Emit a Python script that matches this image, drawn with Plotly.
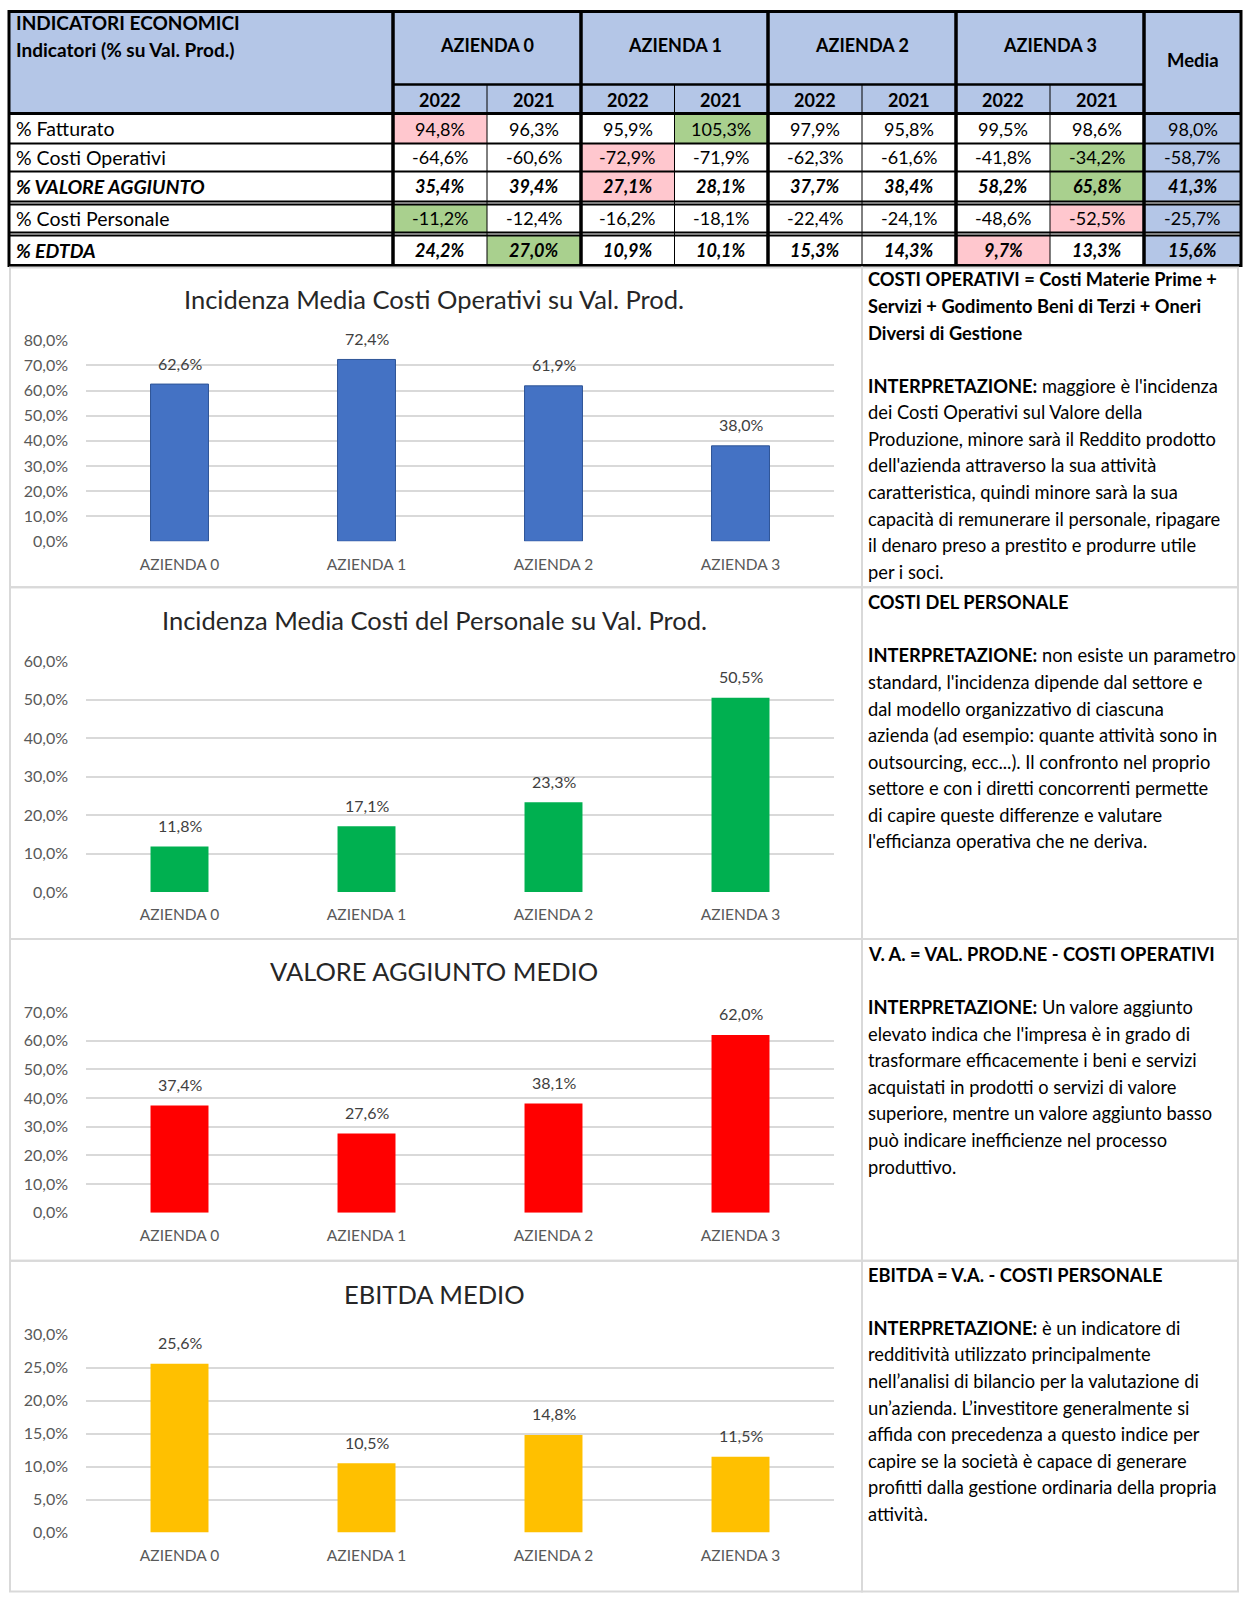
import plotly.graph_objects as go

W, H = 1256, 1600
FONT = "Lato"

# ---------------- DATA ----------------
companies = ["AZIENDA 0", "AZIENDA 1", "AZIENDA 2", "AZIENDA 3"]
years = ["2022", "2021"]
row_labels = ["% Fatturato", "% Costi Operativi", "% VALORE AGGIUNTO",
              "% Costi Personale", "% EDTDA"]
# values per row: A0 2022, A0 2021, A1 2022, A1 2021, A2 2022, A2 2021, A3 2022, A3 2021, Media
fatturato = [94.8, 96.3, 95.9, 105.3, 97.9, 95.8, 99.5, 98.6, 98.0]
costi_operativi = [-64.6, -60.6, -72.9, -71.9, -62.3, -61.6, -41.8, -34.2, -58.7]
valore_aggiunto = [35.4, 39.4, 27.1, 28.1, 37.7, 38.4, 58.2, 65.8, 41.3]
costi_personale = [-11.2, -12.4, -16.2, -18.1, -22.4, -24.1, -48.6, -52.5, -25.7]
edtda = [24.2, 27.0, 10.9, 10.1, 15.3, 14.3, 9.7, 13.3, 15.6]
table_rows = [fatturato, costi_operativi, valore_aggiunto, costi_personale, edtda]
bold_rows = [2, 4]
pink_cells = {0: [0], 1: [2], 2: [2], 3: [7], 4: [6]}
green_cells = {0: [3], 1: [7], 2: [7], 3: [0], 4: [1]}

chart_titles = ["Incidenza Media Costi Operativi su Val. Prod.",
                "Incidenza Media Costi del Personale su Val. Prod.",
                "VALORE AGGIUNTO MEDIO",
                "EBITDA MEDIO"]
media_costi_operativi = [0.626, 0.724, 0.619, 0.380]
media_costi_personale = [0.118, 0.171, 0.233, 0.505]
media_valore_aggiunto = [0.374, 0.276, 0.381, 0.620]
media_ebitda = [0.256, 0.105, 0.148, 0.115]
chart_values = [media_costi_operativi, media_costi_personale,
                media_valore_aggiunto, media_ebitda]
chart_ymax = [0.8, 0.6, 0.7, 0.3]
chart_dtick = [0.1, 0.1, 0.1, 0.05]
chart_colors = ["#4472C4", "#00B050", "#FF0000", "#FFC000"]

panel_texts = [
    ["<b>COSTI OPERATIVI = Costi Materie Prime +</b>",
     "<b>Servizi + Godimento Beni di Terzi + Oneri</b>",
     "<b>Diversi di Gestione</b>",
     "",
     "<b>INTERPRETAZIONE:</b> maggiore è l'incidenza",
     "dei Costi Operativi sul Valore della",
     "Produzione, minore sarà il Reddito prodotto",
     "dell'azienda attraverso la sua attività",
     "caratteristica, quindi minore sarà la sua",
     "capacità di remunerare il personale, ripagare",
     "il denaro preso a prestito e produrre utile",
     "per i soci."],
    ["<b>COSTI DEL PERSONALE</b>",
     "",
     "<b>INTERPRETAZIONE:</b> non esiste un parametro",
     "standard, l'incidenza dipende dal settore e",
     "dal modello organizzativo di ciascuna",
     "azienda (ad esempio: quante attività sono in",
     "outsourcing, ecc...). Il confronto nel proprio",
     "settore e con i diretti concorrenti permette",
     "di capire queste differenze e valutare",
     "l'efficianza operativa che ne deriva."],
    ["<b>V. A. = VAL. PROD.NE - COSTI OPERATIVI</b>",
     "",
     "<b>INTERPRETAZIONE:</b> Un valore aggiunto",
     "elevato indica che l'impresa è in grado di",
     "trasformare efficacemente i beni e servizi",
     "acquistati in prodotti o servizi di valore",
     "superiore, mentre un valore aggiunto basso",
     "può indicare inefficienze nel processo",
     "produttivo."],
    ["<b>EBITDA = V.A. - COSTI PERSONALE</b>",
     "",
     "<b>INTERPRETAZIONE:</b> è un indicatore di",
     "redditività utilizzato principalmente",
     "nell’analisi di bilancio per la valutazione di",
     "un’azienda. L’investitore generalmente si",
     "affida con precedenza a questo indice per",
     "capire se la società è capace di generare",
     "profitti dalla gestione ordinaria della propria",
     "attività."],
]

# ---------------- LAYOUT GEOMETRY (target picture pixels) ----------------
# empirical vertical mapping of the photographed page: shown = V0 + VS * design
V0, VS = 9.4, 0.9888


def px(x):
    return x / W


def py(y):
    return 1 - ((y - V0) / VS) / H


shapes = []
annotations = []


def rect(x0, y0, x1, y1, fill=None, lc=None, lw=0):
    shapes.append(dict(type="rect", xref="paper", yref="paper",
                       x0=px(x0), x1=px(x1), y0=py(y1), y1=py(y0),
                       fillcolor=fill if fill else "rgba(0,0,0,0)",
                       line=dict(color=lc if lc else "rgba(0,0,0,0)", width=lw),
                       layer="below" if fill else "above"))


def line(x0, y0, x1, y1, color="black", w=1):
    shapes.append(dict(type="line", xref="paper", yref="paper",
                       x0=px(x0), x1=px(x1), y0=py(y0), y1=py(y1),
                       line=dict(color=color, width=w), layer="above"))


def text(x, y, s, size=17, xanchor="center", color="black"):
    annotations.append(dict(x=px(x), y=py(y), xref="paper", yref="paper",
                            text=s, showarrow=False, xanchor=xanchor,
                            yanchor="middle",
                            font=dict(family=FONT, size=size, color=color)))


HEADER = "#B4C6E7"
PINK = "#FFC7CE"
GREEN = "#A9D08E"

label_x = (9, 393)
group_x = [393, 581, 768, 956, 1144]
media_x = (1144, 1241)
col_edges = []
for g in range(4):
    a, b = group_x[g], group_x[g + 1]
    m = (a + b) / 2
    col_edges.append((a, m))
    col_edges.append((m, b))
col_edges.append(media_x)

T_TOP, T_MID, T_HB = 11, 84, 113
row_edges = [(113, 143), (143, 171), (171, 201), (204, 232), (235, 265)]
T_BOT = 265

rect(label_x[0], T_TOP, media_x[1], T_HB, fill=HEADER)
for r, (y0, y1) in enumerate(row_edges):
    rect(label_x[0], y0, media_x[1], y1, fill="white")
    for c, (x0, x1) in enumerate(col_edges):
        fill = None
        if c == 8:
            fill = HEADER
        if c in pink_cells.get(r, []):
            fill = PINK
        if c in green_cells.get(r, []):
            fill = GREEN
        if fill:
            rect(x0, y0, x1, y1, fill=fill)

text(14, 22, "<b>INDICATORI ECONOMICI</b>", size=19, xanchor="left")
text(14, 49, "<b>Indicatori (% su Val. Prod.)</b>", size=19, xanchor="left")
for g in range(4):
    a, b = group_x[g], group_x[g + 1]
    text((a + b) / 2, 44, "<b>" + companies[g] + "</b>", size=18)
    for k in range(2):
        x0, x1 = col_edges[2 * g + k]
        text((x0 + x1) / 2, 99, "<b>" + years[k] + "</b>", size=18)
text((media_x[0] + media_x[1]) / 2, 59, "<b>Media</b>", size=18.5)


def fmt(v):
    return ("%.1f%%" % v).replace(".", ",")


for r, (y0, y1) in enumerate(row_edges):
    yc = (y0 + y1) / 2
    lab = row_labels[r]
    if r in bold_rows:
        lab = "<b><i>" + lab + "</i></b>"
    text(14, yc, lab, size=19.5, xanchor="left")
    for c, (x0, x1) in enumerate(col_edges):
        s = fmt(table_rows[r][c])
        if r in bold_rows:
            s = "<b><i>" + s + "</i></b>"
        text((x0 + x1) / 2, yc, s, size=18)

for g in range(4):
    line(group_x[g], T_MID, group_x[g + 1], T_MID, w=2.5)
    m = (group_x[g] + group_x[g + 1]) / 2
    line(m, T_MID, m, T_BOT, w=1)
line(label_x[0], T_HB, media_x[1], T_HB, w=3)
for y in [143, 171, 201, 204, 232, 235]:
    line(label_x[0], y, media_x[1], y, w=2)
rect(label_x[0], T_TOP, label_x[1], T_BOT, lc="black", lw=3)
for g in range(4):
    rect(group_x[g], T_TOP, group_x[g + 1], T_BOT, lc="black", lw=3)
rect(media_x[0], T_TOP, media_x[1], T_BOT, lc="black", lw=3)

# panels
PANEL_L, PANEL_SEP, PANEL_R = 10, 862, 1238
panel_y = [267, 587, 939, 1261, 1592]
GRAYB = "#D9D9D9"
for i in range(4):
    rect(PANEL_L, panel_y[i], PANEL_SEP, panel_y[i + 1], lc=GRAYB, lw=2)
    rect(PANEL_SEP, panel_y[i], PANEL_R, panel_y[i + 1], lc=GRAYB, lw=2)

text_start = [279, 602, 954, 1275]
LINE_H = 26.6
for i in range(4):
    for j, s in enumerate(panel_texts[i]):
        if s:
            text(866, text_start[i] + j * LINE_H, s, size=18.3, xanchor="left")

# charts
plot_x = (86, 834)
chart_top = [340, 661, 1012, 1335]
chart_bot = [541, 892, 1213, 1533]
title_y = [299, 620, 971, 1294]

fig = go.Figure()
layout_axes = {}
for i in range(4):
    sfx = "" if i == 0 else str(i + 1)
    fig.add_trace(go.Bar(
        x=companies, y=chart_values[i], xaxis="x" + sfx, yaxis="y" + sfx,
        marker=dict(color=chart_colors[i],
                    line=dict(color="#2F5597" if i == 0 else chart_colors[i],
                              width=1 if i == 0 else 0)),
        width=0.31, showlegend=False, hoverinfo="skip"))
    for xc, v in zip(companies, chart_values[i]):
        annotations.append(dict(
            x=xc, y=v, xref="x" + sfx, yref="y" + sfx,
            text=fmt(v * 100), showarrow=False, yanchor="middle", yshift=21,
            font=dict(family=FONT, size=16, color="#404040")))
    layout_axes["xaxis" + sfx] = dict(
        domain=[px(plot_x[0]), px(plot_x[1])], anchor="y" + sfx,
        showgrid=False, zeroline=False, showline=False, ticks="",
        tickfont=dict(family=FONT, size=15.5, color="#595959"),
        ticklabelstandoff=12, fixedrange=True)
    layout_axes["yaxis" + sfx] = dict(
        domain=[py(chart_bot[i]), py(chart_top[i])], anchor="x" + sfx,
        range=[0, chart_ymax[i]], tick0=0, dtick=chart_dtick[i],
        tickformat=".1%", showgrid=True, gridcolor="#D9D9D9", gridwidth=1.5,
        zeroline=False, showline=False, ticks="",
        tickfont=dict(family=FONT, size=16, color="#595959"),
        ticklabelstandoff=17, fixedrange=True)
    text(434, title_y[i], chart_titles[i], size=25.5, color="#262626")

fig.update_layout(
    width=W, height=H, autosize=False,
    margin=dict(l=0, r=0, t=0, b=0),
    paper_bgcolor="white", plot_bgcolor="white",
    separators=",.",
    font=dict(family=FONT),
    shapes=shapes, annotations=annotations,
    **layout_axes)

fig.write_html("out.html", config={"displayModeBar": False},
               post_script="document.body.style.margin='0';document.body.style.overflow='hidden';")
